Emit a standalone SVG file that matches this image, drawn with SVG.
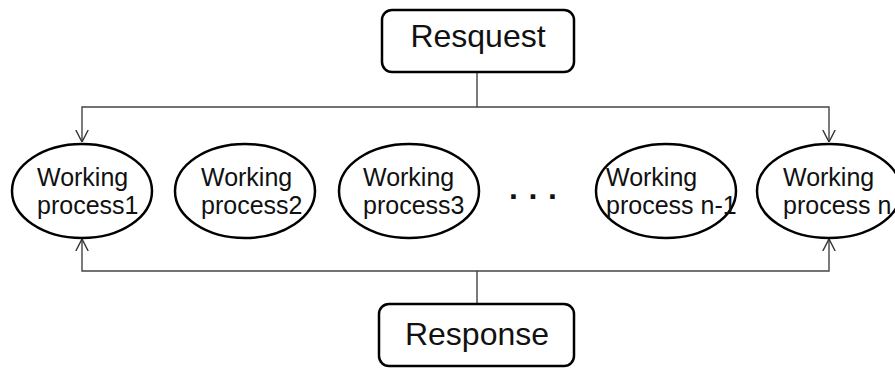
<svg xmlns="http://www.w3.org/2000/svg" width="895" height="369" viewBox="0 0 895 369">
  <style>
    .box { fill: #ffffff; stroke: #000000; stroke-width: 2.5; }
    .proc { fill: #ffffff; stroke: #000000; stroke-width: 2.5; }
    .big { font-family: "Liberation Sans", Arial, sans-serif; font-size: 32px; fill: #111111; }
    .lbl { font-family: "Liberation Sans", Arial, sans-serif; font-size: 25px; fill: #111111; }
    .wire { fill: none; stroke: #444444; stroke-width: 1.4; }
  </style>
  <defs>
    <marker id="arrow" viewBox="0 0 12 14" refX="12" refY="7" markerWidth="12" markerHeight="14" markerUnits="userSpaceOnUse" orient="auto">
      <path d="M0,0.8 L12,7 L0,13.2" fill="none" stroke="#333333" stroke-width="1.4"/>
    </marker>
  </defs>

  <rect width="895" height="369" fill="#ffffff"/>

  <!-- connectors -->
  <g id="connectors">
    <path class="wire" d="M477,72 V107 H82 V142" marker-end="url(#arrow)"/>
    <path class="wire" d="M477,107 H829 V142" marker-end="url(#arrow)"/>
    <path class="wire" d="M477,304 V271 H82 V239" marker-end="url(#arrow)"/>
    <path class="wire" d="M477,271 H829 V239" marker-end="url(#arrow)"/>
  </g>

  <g id="request">
    <rect class="box" x="382" y="10" width="192" height="62" rx="10" ry="10"/>
    <text class="big" x="478" y="47" text-anchor="middle">Resquest</text>
  </g>

  <g id="wp1">
    <ellipse class="proc" cx="82" cy="191" rx="70" ry="47"/>
    <text class="lbl" x="37" y="186">Working</text>
    <text class="lbl" x="37" y="214">process1</text>
  </g>

  <g id="wp2">
    <ellipse class="proc" cx="245" cy="191" rx="70" ry="47"/>
    <text class="lbl" x="201" y="186">Working</text>
    <text class="lbl" x="201" y="214">process2</text>
  </g>

  <g id="wp3">
    <ellipse class="proc" cx="409" cy="191" rx="70" ry="47"/>
    <text class="lbl" x="363" y="186">Working</text>
    <text class="lbl" x="363" y="214">process3</text>
  </g>

  <g id="ellipsis">
    <text x="509" y="199" font-family="'Liberation Sans', Arial, sans-serif" font-size="32" font-weight="bold" letter-spacing="10.6" fill="#111111">...</text>
  </g>

  <g id="wpn1">
    <ellipse class="proc" cx="666" cy="191" rx="70" ry="47"/>
    <text class="lbl" x="606" y="186">Working</text>
    <text class="lbl" x="606" y="214">process n-1</text>
  </g>

  <g id="wpn">
    <ellipse class="proc" cx="829" cy="191" rx="72" ry="47"/>
    <text class="lbl" x="783" y="186">Working</text>
    <text class="lbl" x="783" y="214">process n</text>
  </g>

  <g id="response">
    <rect class="box" x="379" y="304" width="195" height="62" rx="10" ry="10"/>
    <text class="big" x="477" y="345" text-anchor="middle">Response</text>
  </g>
</svg>
